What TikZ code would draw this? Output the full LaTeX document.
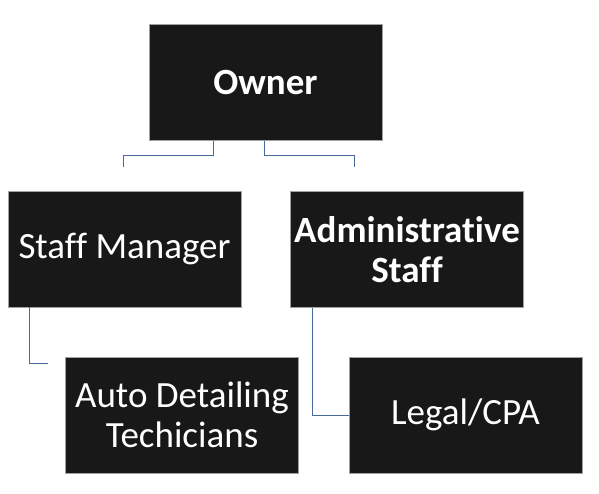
\documentclass[tikz,border=0pt]{standalone}
\usepackage{fontspec}
\setmainfont{Carlito}[Ligatures={NoCommon,NoRequired}]
\begin{document}
\begin{tikzpicture}[x=1pt,y=-1pt,
  orgbox/.style={draw={rgb,255:red,160;green,160;blue,160}, line width=0.8pt,
    fill={rgb,255:red,24;green,24;blue,24}, text=white,
    minimum width=233pt, minimum height=116pt, inner sep=0pt,
    align=center, font=\fontsize{37}{39.5}\selectfont},
  conn/.style={draw={rgb,255:red,74;green,105;blue,155}, line width=0.8pt}]
\useasboundingbox (0,0) rectangle (599,493);
\node[orgbox, font=\fontsize{37}{39.5}\selectfont\bfseries] (owner) at (265.5,82.5) {Owner};
\node[orgbox] (sm) at (124.5,249) {Staff Manager};
\node[orgbox, font=\fontsize{37}{39.5}\selectfont\bfseries] (as) at (407,249.5) {Administrative\\Staff};
\node[orgbox] (adt) at (182,415) {Auto Detailing\\Techicians};
\node[orgbox] (legal) at (465.5,415) {Legal/CPA};
\draw[conn] ([xshift=65pt]owner.south west) -- ++(0,14) -| ([xshift=116pt,yshift=24pt]sm.north west);
\draw[conn] ([xshift=116pt]owner.south west) -- ++(0,14) -| ([xshift=64pt,yshift=24pt]as.north west);
\draw[conn] ([xshift=22pt]sm.south west) |- ([xshift=-17pt,yshift=-7pt]adt.north west);
\draw[conn] ([xshift=22pt]as.south west) |- (legal.west);
\end{tikzpicture}
\end{document}
